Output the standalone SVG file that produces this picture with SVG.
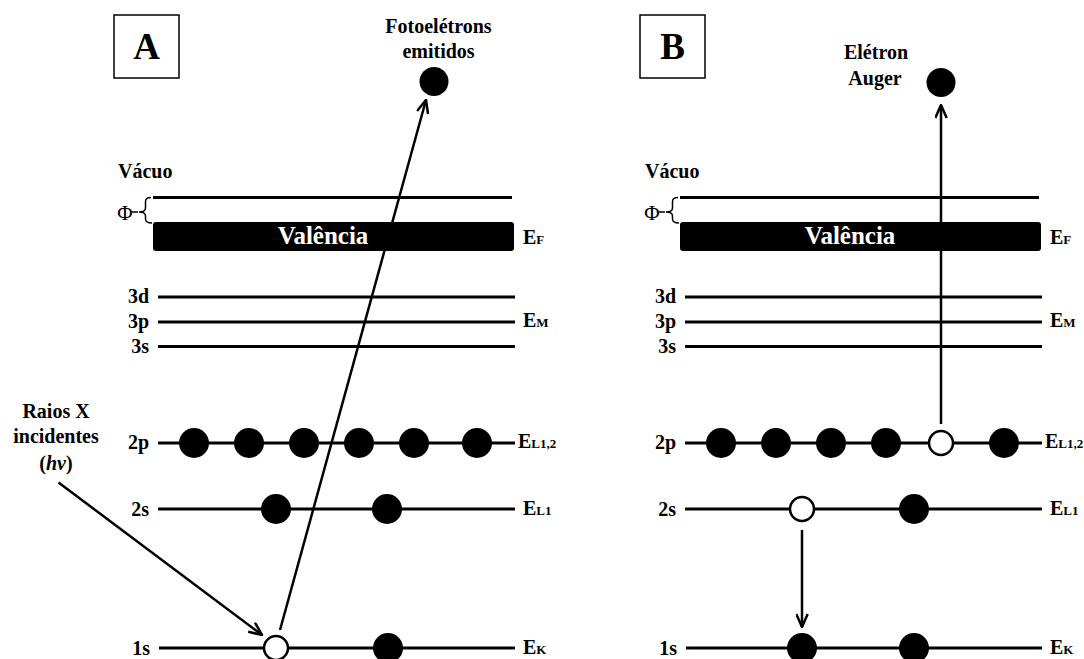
<svg xmlns="http://www.w3.org/2000/svg" width="1084" height="659" viewBox="0 0 1084 659">
  <style>
    text { font-family: "Liberation Serif", "Times New Roman", serif; font-weight: bold; fill: #000; }
    .lbl { font-size: 20px; }
    .lvl { font-size: 20px; text-anchor: end; }
    .ctr { text-anchor: middle; }
    .big { font-size: 37px; text-anchor: middle; }
    .phi { font-size: 21px; font-weight: normal; text-anchor: middle; }
    .val { font-size: 25px; fill: #fff; text-anchor: middle; }
    .sub { font-size: 13px; }
    .level { stroke: #000; stroke-width: 3; fill: none; }
    .vac { stroke: #000; stroke-width: 3; fill: none; }
    .frame { fill: #fff; stroke: #000; stroke-width: 1.5; }
    .band { fill: #000; }
    .e { fill: #000; }
    .hole { fill: #fff; stroke: #000; stroke-width: 2.5; }
    .arrow { stroke: #000; stroke-width: 2.5; fill: none; marker-end: url(#open); }
    .brace { stroke: #000; stroke-width: 1.5; fill: none; }
  </style>
  <defs>
    <marker id="open" viewBox="0 0 15 13" refX="14" refY="6.5" markerWidth="15" markerHeight="13" markerUnits="userSpaceOnUse" orient="auto">
      <path d="M1,0.8 L14,6.5 L1,12.2" fill="none" stroke="#000" stroke-width="2.5" stroke-linejoin="miter"/>
    </marker>
    <!-- one energy-level scheme; panel B reuses it shifted to the right -->
    <g id="scheme">
      <text class="lbl" x="118" y="178">Vácuo</text>
      <line class="vac" x1="153" y1="197.5" x2="512" y2="197.5"/>
      <text class="phi" x="125" y="220">Φ</text>
      <line class="brace" x1="132" y1="212" x2="138" y2="212"/>
      <path class="brace" d="M151,197.5 Q145.5,197.5 145.5,201.5 L145.5,208 Q145.5,212 139,212 Q145.5,212 145.5,216 L145.5,219 Q145.5,223 152,223"/>
      <rect class="band" x="153" y="222" width="361" height="29" rx="3"/>
      <text class="val" x="323" y="243.5">Valência</text>
      <text class="lbl" x="523" y="244">E<tspan class="sub">F</tspan></text>

      <line class="level" x1="158" y1="297" x2="515" y2="297"/>
      <line class="level" x1="158" y1="322" x2="515" y2="322"/>
      <line class="level" x1="158" y1="346.5" x2="515" y2="346.5"/>
      <text class="lvl" x="149" y="303">3d</text>
      <text class="lvl" x="149" y="328">3p</text>
      <text class="lvl" x="149" y="353">3s</text>
      <text class="lbl" x="523" y="327">E<tspan class="sub">M</tspan></text>

      <line class="level" x1="158" y1="443" x2="515" y2="443"/>
      <text class="lvl" x="149" y="449">2p</text>
      <text class="lbl" x="518" y="448">E<tspan class="sub">L1,2</tspan></text>

      <line class="level" x1="158" y1="509" x2="515" y2="509"/>
      <text class="lvl" x="149" y="516">2s</text>
      <text class="lbl" x="523" y="515">E<tspan class="sub">L1</tspan></text>

      <line class="level" x1="159" y1="648" x2="515" y2="648"/>
      <text class="lvl" x="150" y="655">1s</text>
      <text class="lbl" x="523" y="654">E<tspan class="sub">K</tspan></text>
    </g>
  </defs>

  <!-- Panel A: photoemission -->
  <g id="panel-a">
    <g id="a-label">
      <rect class="frame" x="114" y="15" width="65" height="63"/>
      <text class="big" x="146.5" y="59">A</text>
    </g>
    <use href="#scheme"/>
    <g id="a-photoelectron">
      <text class="lbl ctr" x="438.5" y="33">Fotoelétrons</text>
      <text class="lbl ctr" x="438.5" y="58">emitidos</text>
      <circle class="e" cx="434" cy="81.5" r="14.5"/>
    </g>
    <g id="a-xray">
      <text class="lbl ctr" x="56" y="418">Raios X</text>
      <text class="lbl ctr" x="56" y="443">incidentes</text>
      <text class="lbl ctr" x="56" y="470">(<tspan font-style="italic">hv</tspan>)</text>
    </g>
    <g id="a-2p">
      <circle class="e" cx="194" cy="443" r="15"/>
      <circle class="e" cx="249" cy="443" r="15"/>
      <circle class="e" cx="304" cy="443" r="15"/>
      <circle class="e" cx="359" cy="443" r="15"/>
      <circle class="e" cx="414" cy="443" r="15"/>
      <circle class="e" cx="477" cy="443" r="15"/>
    </g>
    <g id="a-2s">
      <circle class="e" cx="276" cy="509" r="15"/>
      <circle class="e" cx="387" cy="509" r="15"/>
    </g>
    <g id="a-1s">
      <circle class="hole" cx="276" cy="648" r="12"/>
      <circle class="e" cx="388" cy="648" r="15"/>
    </g>
  </g>

  <!-- Panel B: Auger process -->
  <g id="panel-b">
    <g id="b-label">
      <rect class="frame" x="640" y="15" width="65" height="63"/>
      <text class="big" x="672.5" y="59">B</text>
    </g>
    <use href="#scheme" transform="translate(527,0)"/>
    <g id="b-auger">
      <text class="lbl ctr" x="876" y="59">Elétron</text>
      <text class="lbl ctr" x="875" y="85">Auger</text>
      <circle class="e" cx="941" cy="82.5" r="14.5"/>
    </g>
    <g id="b-2p">
      <circle class="e" cx="721" cy="443" r="15"/>
      <circle class="e" cx="776" cy="443" r="15"/>
      <circle class="e" cx="831" cy="443" r="15"/>
      <circle class="e" cx="886" cy="443" r="15"/>
      <circle class="hole" cx="941" cy="443" r="12"/>
      <circle class="e" cx="1004" cy="443" r="15"/>
    </g>
    <g id="b-2s">
      <circle class="hole" cx="802" cy="509" r="12"/>
      <circle class="e" cx="914" cy="509" r="15"/>
    </g>
    <g id="b-1s">
      <circle class="e" cx="802" cy="648" r="15"/>
      <circle class="e" cx="914" cy="648" r="15"/>
    </g>
  </g>

  <!-- transitions -->
  <g id="connectors">
    <line class="arrow" x1="58.5" y1="482.5" x2="262" y2="635"/>
    <line class="arrow" x1="280" y1="630" x2="426" y2="100"/>
    <line class="arrow" x1="941" y1="424" x2="941" y2="105"/>
    <line class="arrow" x1="802" y1="530" x2="802" y2="627"/>
  </g>
</svg>
